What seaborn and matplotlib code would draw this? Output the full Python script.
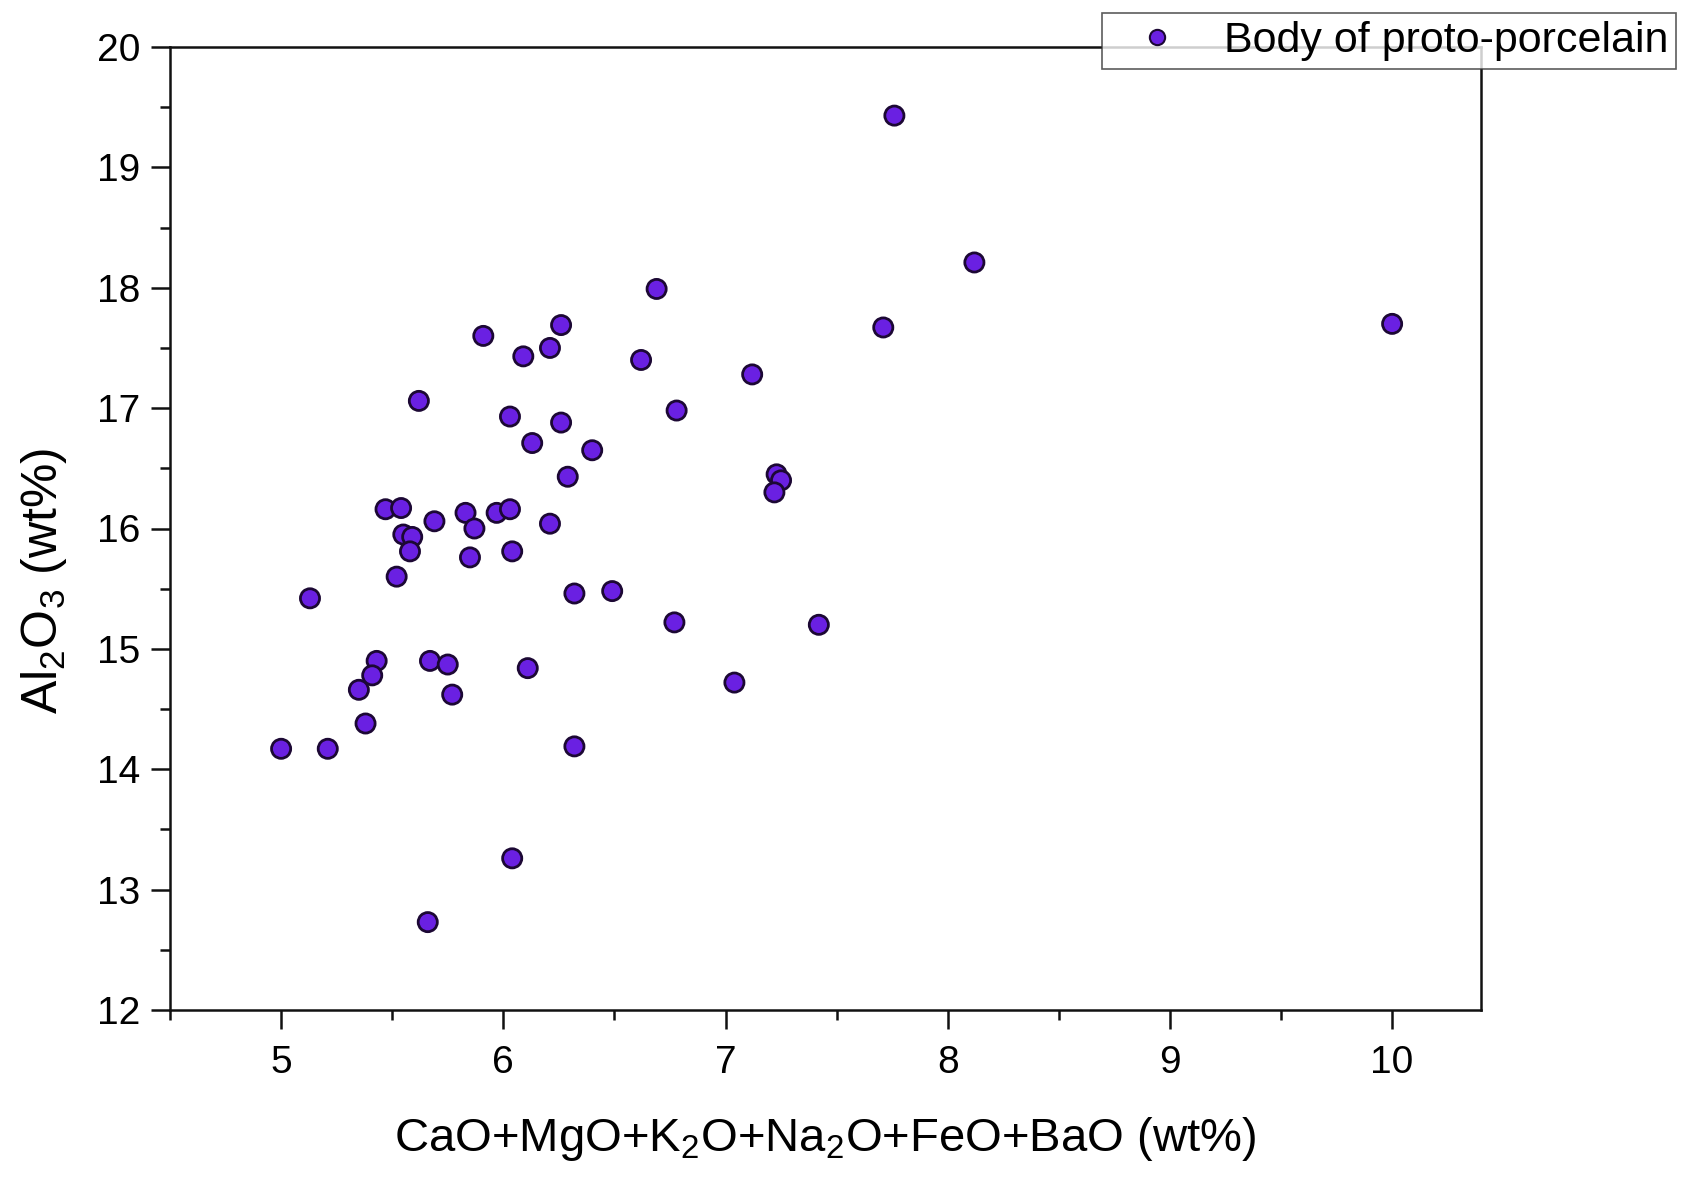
import matplotlib
matplotlib.use("Agg")
import matplotlib.pyplot as plt
from matplotlib.ticker import MultipleLocator
import seaborn as sns
import pandas as pd

# Data
flux_oxides = [7.76, 8.12, 10.00, 7.71, 6.69, 6.26, 6.21, 6.09, 5.91, 6.62,
               7.12, 6.78, 5.62, 6.03, 6.26, 6.13, 6.40, 6.29, 7.23, 7.25,
               7.22, 5.47, 5.54, 5.83, 5.97, 6.03, 5.69, 6.21, 5.55, 5.59,
               5.87, 5.58, 5.85, 6.04, 5.52, 5.13, 6.32, 6.49, 6.77, 7.42,
               5.43, 5.41, 5.35, 5.67, 5.75, 5.77, 6.11, 7.04, 5.38, 5.00,
               5.21, 6.32, 6.04, 5.66]
alumina = [19.43, 18.21, 17.70, 17.67, 17.99, 17.69, 17.50, 17.43, 17.60, 17.40,
           17.28, 16.98, 17.06, 16.93, 16.88, 16.71, 16.65, 16.43, 16.45, 16.40,
           16.30, 16.16, 16.17, 16.13, 16.13, 16.16, 16.06, 16.04, 15.95, 15.93,
           16.00, 15.81, 15.76, 15.81, 15.60, 15.42, 15.46, 15.48, 15.22, 15.20,
           14.90, 14.78, 14.66, 14.90, 14.87, 14.62, 14.84, 14.72, 14.38, 14.17,
           14.17, 14.19, 13.26, 12.73]
series_name = "Body of proto-porcelain"
x_ticks = [5, 6, 7, 8, 9, 10]
y_ticks = [12, 13, 14, 15, 16, 17, 18, 19, 20]

df = pd.DataFrame({"x": flux_oxides, "y": alumina, "group": series_name})

sns.set_style("ticks")
plt.rcParams["font.family"] = ["Liberation Sans", "DejaVu Sans"]
plt.rcParams["mathtext.default"] = "regular"
for k in ["text.color", "axes.labelcolor", "xtick.color", "ytick.color",
          "xtick.labelcolor", "ytick.labelcolor"]:
    plt.rcParams[k] = "black"

FILL = "#6A20E2"
EDGE = "#1c0834"

fig = plt.figure(figsize=(16.85, 11.77), dpi=100)
ax = fig.add_axes([170/1685, 1 - 1010/1177, (1481-170)/1685, (1010-47)/1177])

sns.scatterplot(data=df, x="x", y="y", hue="group", palette=[FILL],
                s=190, edgecolor=EDGE, linewidth=2.0, ax=ax, legend=False,
                zorder=3)

ax.set_xlim(4.5, 10.4)
ax.set_ylim(12, 20)
ax.set_xticks(x_ticks)
ax.set_yticks(y_ticks)
ax.xaxis.set_minor_locator(MultipleLocator(0.5))
ax.yaxis.set_minor_locator(MultipleLocator(0.5))
ax.tick_params(which="major", direction="out", length=13.5, width=1.8,
               labelsize=28, color="#111111")
ax.tick_params(axis="x", which="major", pad=12)
ax.tick_params(axis="y", which="major", pad=8)
ax.tick_params(which="minor", direction="out", length=7, width=1.8,
               color="#111111")
for sp in ax.spines.values():
    sp.set_linewidth(1.8)
    sp.set_color("#111111")

ax.set_xlabel("CaO+MgO+K$_2$O+Na$_2$O+FeO+BaO (wt%)", fontsize=34, labelpad=24)
ax.set_ylabel("Al$_2$O$_3$ (wt%)", fontsize=36)
ax.yaxis.set_label_coords(-0.077, 0.446)

handle = plt.Line2D([], [], marker="o", linestyle="none", markersize=11,
                    markerfacecolor=FILL, markeredgecolor=EDGE,
                    markeredgewidth=1.5)
leg = fig.legend([handle], [series_name], loc="upper right",
                 bbox_to_anchor=(1676/1685, 1 - 13/1177), fontsize=31,
                 frameon=True, fancybox=False, edgecolor="#333333",
                 borderpad=0.18, handlelength=2.2, handletextpad=0.45,
                 borderaxespad=0)
leg.get_frame().set_linewidth(1.2)
leg.set_zorder(10)

fig.savefig("out.png", dpi=100, facecolor="white")
